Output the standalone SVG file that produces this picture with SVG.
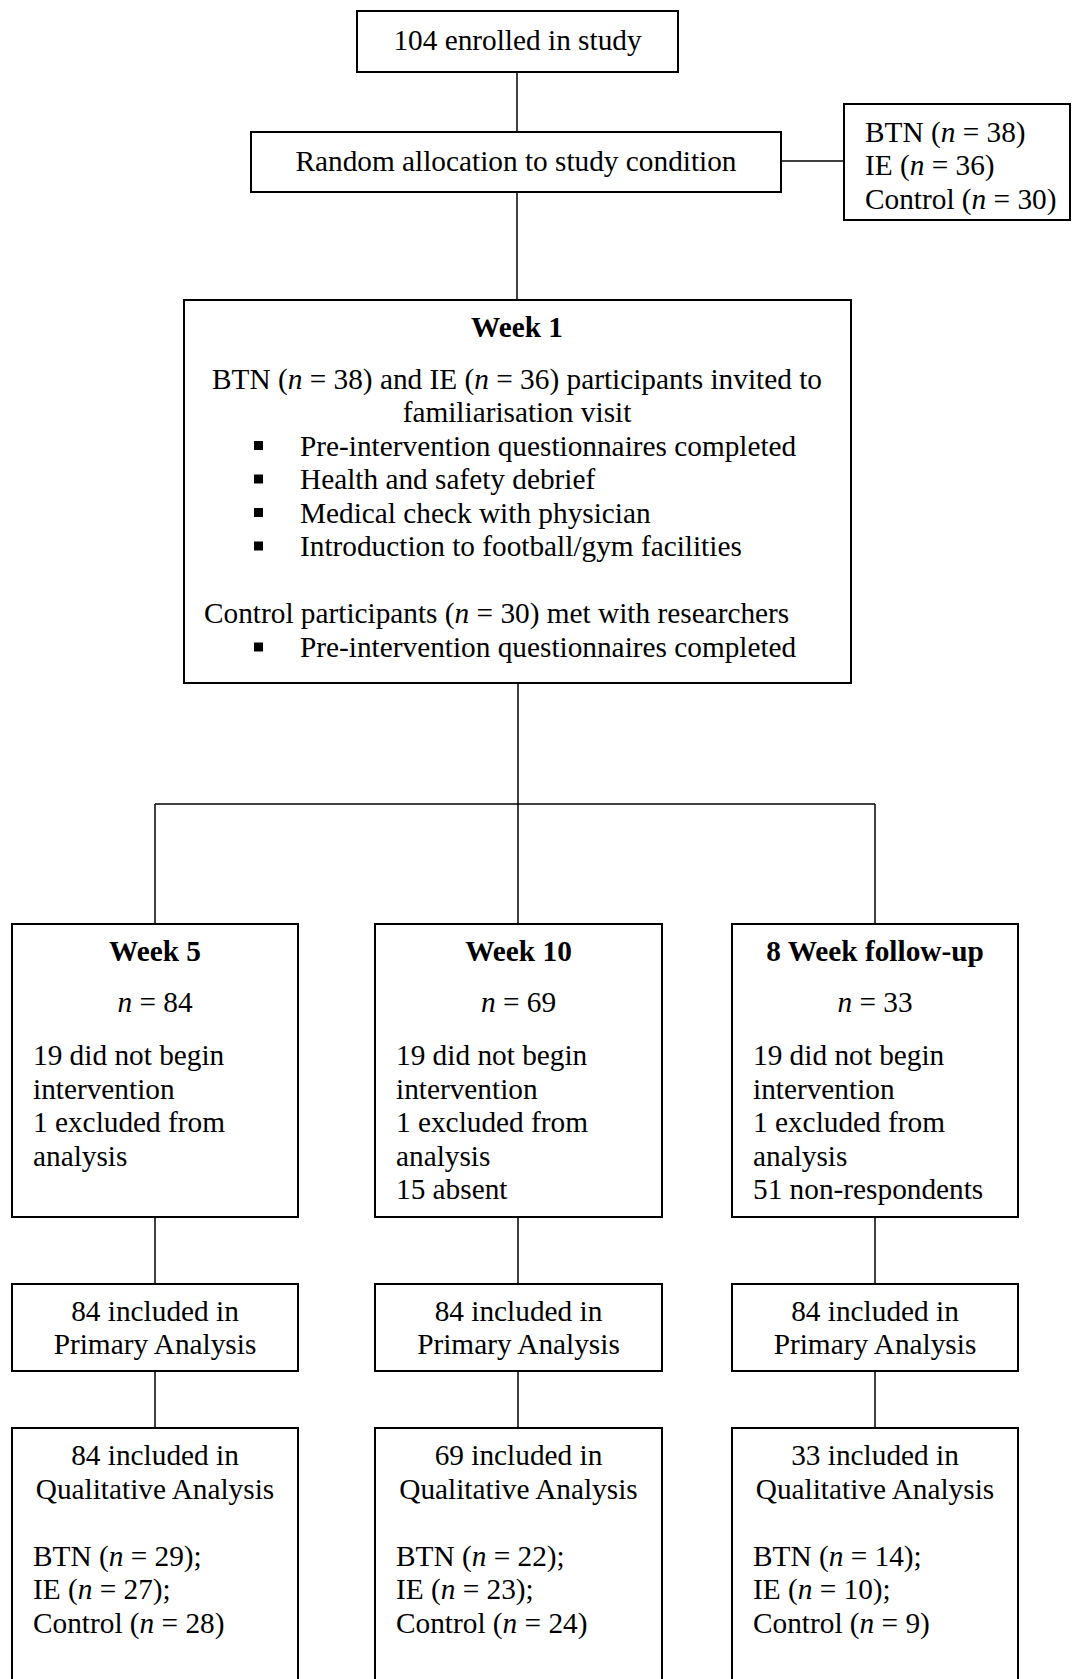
<svg xmlns="http://www.w3.org/2000/svg" width="1072" height="1679" viewBox="0 0 1072 1679">
<style>
  .box { fill: #ffffff; stroke: #000000; stroke-width: 2; }
  .conn line { stroke: #000000; stroke-width: 1.5; }
  text { font-family: "Liberation Serif", "Times New Roman", serif; font-size: 29.3px; fill: #000000; }
  .c { text-anchor: middle; }
  .b { font-weight: bold; }
  .i { font-style: italic; }
  .bul { fill: #000000; }
</style>
<rect x="0" y="0" width="1072" height="1679" fill="#ffffff"/>
<g id="connectors" class="conn">
  <line x1="517" y1="72" x2="517" y2="132"/>
  <line x1="517" y1="192" x2="517" y2="300"/>
  <line x1="781" y1="161" x2="844" y2="161"/>
  <line x1="518" y1="683" x2="518" y2="804"/>
  <line x1="155" y1="804" x2="875" y2="804"/>
  <line x1="155" y1="804" x2="155" y2="924"/>
  <line x1="518" y1="804" x2="518" y2="924"/>
  <line x1="875" y1="804" x2="875" y2="924"/>
  <line x1="155" y1="1217" x2="155" y2="1284"/>
  <line x1="518" y1="1217" x2="518" y2="1284"/>
  <line x1="875" y1="1217" x2="875" y2="1284"/>
  <line x1="155" y1="1371" x2="155" y2="1428"/>
  <line x1="518" y1="1371" x2="518" y2="1428"/>
  <line x1="875" y1="1371" x2="875" y2="1428"/>
</g>
<g id="enrolled">
  <rect class="box" x="357" y="11" width="321" height="61"/>
  <text class="c" x="517.5" y="50">104 enrolled in study</text>
</g>
<g id="random">
  <rect class="box" x="251" y="132" width="530" height="60"/>
  <text class="c" x="516" y="171">Random allocation to study condition</text>
</g>
<g id="allocation">
  <rect class="box" x="844" y="104" width="226" height="116"/>
  <text x="865" y="142">BTN (<tspan class="i">n</tspan> = 38)</text>
  <text x="865" y="175">IE (<tspan class="i">n</tspan> = 36)</text>
  <text x="865" y="208.5">Control (<tspan class="i">n</tspan> = 30)</text>
</g>
<g id="week1">
  <rect class="box" x="184" y="300" width="667" height="383"/>
  <text class="c b" x="517" y="337">Week 1</text>
  <text class="c" x="517" y="389">BTN (<tspan class="i">n</tspan> = 38) and IE (<tspan class="i">n</tspan> = 36) participants invited to</text>
  <text class="c" x="517" y="422">familiarisation visit</text>
  <rect class="bul" x="254" y="441" width="9" height="9"/>
  <text x="300" y="455.5">Pre-intervention questionnaires completed</text>
  <rect class="bul" x="254" y="474.5" width="9" height="9"/>
  <text x="300" y="489">Health and safety debrief</text>
  <rect class="bul" x="254" y="508" width="9" height="9"/>
  <text x="300" y="522.5">Medical check with physician</text>
  <rect class="bul" x="254" y="541.5" width="9" height="9"/>
  <text x="300" y="556">Introduction to football/gym facilities</text>
  <text x="204" y="623">Control participants (<tspan class="i">n</tspan> = 30) met with researchers</text>
  <rect class="bul" x="254" y="642.5" width="9" height="9"/>
  <text x="300" y="657">Pre-intervention questionnaires completed</text>
</g>
<g id="week5">
  <rect class="box" x="12" y="924" width="286" height="293"/>
  <text class="c b" x="155" y="961">Week 5</text>
  <text class="c" x="155" y="1012"><tspan class="i">n</tspan> = 84</text>
  <text x="33" y="1065">19 did not begin</text>
  <text x="33" y="1098.5">intervention</text>
  <text x="33" y="1132">1 excluded from</text>
  <text x="33" y="1165.5">analysis</text>
</g>
<g id="week10">
  <rect class="box" x="375" y="924" width="287" height="293"/>
  <text class="c b" x="518.5" y="961">Week 10</text>
  <text class="c" x="518.5" y="1012"><tspan class="i">n</tspan> = 69</text>
  <text x="396" y="1065">19 did not begin</text>
  <text x="396" y="1098.5">intervention</text>
  <text x="396" y="1132">1 excluded from</text>
  <text x="396" y="1165.5">analysis</text>
  <text x="396" y="1199">15 absent</text>
</g>
<g id="week8followup">
  <rect class="box" x="732" y="924" width="286" height="293"/>
  <text class="c b" x="875" y="961">8 Week follow-up</text>
  <text class="c" x="875" y="1012"><tspan class="i">n</tspan> = 33</text>
  <text x="753" y="1065">19 did not begin</text>
  <text x="753" y="1098.5">intervention</text>
  <text x="753" y="1132">1 excluded from</text>
  <text x="753" y="1165.5">analysis</text>
  <text x="753" y="1199">51 non-respondents</text>
</g>
<g id="primary5">
  <rect class="box" x="12" y="1284" width="286" height="87"/>
  <text class="c" x="155" y="1321">84 included in</text>
  <text class="c" x="155" y="1354">Primary Analysis</text>
</g>
<g id="primary10">
  <rect class="box" x="375" y="1284" width="287" height="87"/>
  <text class="c" x="518.5" y="1321">84 included in</text>
  <text class="c" x="518.5" y="1354">Primary Analysis</text>
</g>
<g id="primary8">
  <rect class="box" x="732" y="1284" width="286" height="87"/>
  <text class="c" x="875" y="1321">84 included in</text>
  <text class="c" x="875" y="1354">Primary Analysis</text>
</g>
<g id="qual5">
  <rect class="box" x="12" y="1428" width="286" height="270"/>
  <text class="c" x="155" y="1465">84 included in</text>
  <text class="c" x="155" y="1498.5">Qualitative Analysis</text>
  <text x="33" y="1565.5">BTN (<tspan class="i">n</tspan> = 29);</text>
  <text x="33" y="1599">IE (<tspan class="i">n</tspan> = 27);</text>
  <text x="33" y="1632.5">Control (<tspan class="i">n</tspan> = 28)</text>
</g>
<g id="qual10">
  <rect class="box" x="375" y="1428" width="287" height="270"/>
  <text class="c" x="518.5" y="1465">69 included in</text>
  <text class="c" x="518.5" y="1498.5">Qualitative Analysis</text>
  <text x="396" y="1565.5">BTN (<tspan class="i">n</tspan> = 22);</text>
  <text x="396" y="1599">IE (<tspan class="i">n</tspan> = 23);</text>
  <text x="396" y="1632.5">Control (<tspan class="i">n</tspan> = 24)</text>
</g>
<g id="qual8">
  <rect class="box" x="732" y="1428" width="286" height="270"/>
  <text class="c" x="875" y="1465">33 included in</text>
  <text class="c" x="875" y="1498.5">Qualitative Analysis</text>
  <text x="753" y="1565.5">BTN (<tspan class="i">n</tspan> = 14);</text>
  <text x="753" y="1599">IE (<tspan class="i">n</tspan> = 10);</text>
  <text x="753" y="1632.5">Control (<tspan class="i">n</tspan> = 9)</text>
</g>
</svg>
